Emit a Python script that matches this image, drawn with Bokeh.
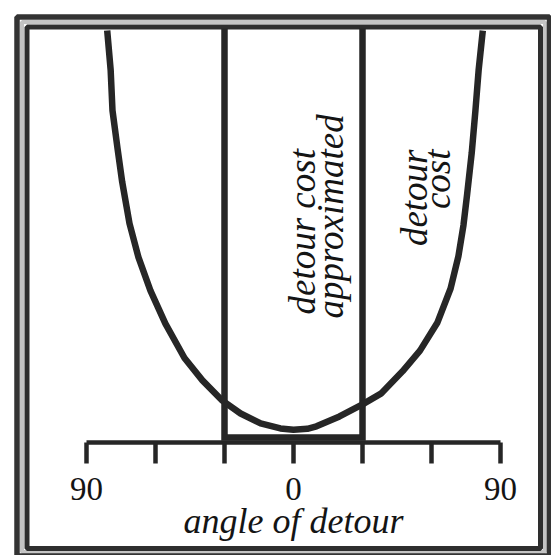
from bokeh.plotting import figure
from bokeh.models import Range1d
from bokeh.embed import file_html
from bokeh.resources import INLINE
from bokeh.core.properties import value
import numpy as np

# ---- data ----
detour_angle = [-81, -79.5, -78.7, -76.5, -74.5, -72.6, -71.3, -67.4, -62.2, -55.7, -47.4,
                -39.6, -30.9, -23, -14.3, -5.7, 0,
                6, 10, 20, 30, 38, 47.4, 55, 62.6, 68.3, 71.7, 73.9, 75.5, 77.5, 79.1, 80.5, 82.3]
detour_cost = [9.95, 9.0, 8.02, 7.1, 6.3, 5.7, 5.29, 4.47, 3.67, 2.87, 2.04,
               1.5, 1.01, 0.7, 0.46, 0.34, 0.31,
               0.33, 0.39, 0.63, 0.92, 1.18, 1.72, 2.22, 2.9, 3.72, 4.5, 5.25, 6.0, 7.0, 8.02, 9.0, 9.95]
approx_angle = [-30, -30, 30, 30]
approx_cost = [10.0, 0.12, 0.12, 10.0]
tick_angles = [-90, -60, -30, 0, 30, 60, 90]
label_angles = [-90, 0, 90]
tick_labels = ["90", "0", "90"]
axis_title = "angle of detour"
label_approx = ["detour cost", "approximated"]
label_cost = ["detour", "cost"]

# ---- layout: canvas pixel -> data mapping ----
PX_PER_DEG = 2.3
X0_PX = 293.0
PX_PER_COST = 41.4
Y0_PX = 442.0
W, H = 551, 555


def ax(px):
    return (px - X0_PX) / PX_PER_DEG


def ay(py):
    return (Y0_PX - py) / PX_PER_COST


p = figure(width=W, height=H, output_backend="svg", toolbar_location=None,
           x_range=Range1d(ax(0), ax(W)), y_range=Range1d(ay(H), ay(0)),
           x_axis_type=None, y_axis_type=None,
           min_border_left=0, min_border_right=0, min_border_top=0, min_border_bottom=0)
p.grid.visible = False
p.outline_line_color = None
p.background_fill_color = "white"
p.border_fill_color = "white"

dark = "#262626"
ink = "#141414"

# frame (double border)
p.quad(left=[ax(21.5)], right=[ax(544.5)], top=[ay(21.5)], bottom=[ay(551.5)],
       fill_color=None, line_color="#c4c4c4", line_width=4)
p.quad(left=[ax(16.5)], right=[ax(549)], top=[ay(16.5)], bottom=[ay(555.5)],
       fill_color=None, line_color="#333333", line_width=5.5)
p.quad(left=[ax(26.5)], right=[ax(540)], top=[ay(26.5)], bottom=[ay(548)],
       fill_color=None, line_color="#2e2e2e", line_width=5)

# axis line and ticks
p.line(x=[tick_angles[0], tick_angles[-1]], y=[0, 0], line_color=dark, line_width=4.5)
p.segment(x0=tick_angles, y0=[0] * len(tick_angles), x1=tick_angles,
          y1=[ay(463)] * len(tick_angles), line_color=dark, line_width=4.5)
p.text(x=label_angles, y=[ay(488)] * 3, text=tick_labels,
       text_font=value("Liberation Serif"), text_font_size="33px",
       text_align="center", text_baseline="alphabetic", text_color=ink)
p.text(x=[0], y=[ay(520)], text=[axis_title],
       text_font=value("Liberation Serif"), text_font_style="italic", text_font_size="36px",
       text_align="center", text_baseline="alphabetic", text_color=ink)

# approximated cost (step) and true detour cost curve
p.line(x=approx_angle, y=approx_cost, line_color=dark, line_width=6.5, line_join="miter")
p.line(x=detour_angle, y=detour_cost, line_color=dark, line_width=6.5, line_join="round")

# rotated labels
p.text(x=[ax(302), ax(330)], y=[ay(314), ay(318)], text=label_approx, angle=np.pi / 2,
       text_font=value("Liberation Serif"), text_font_style="italic", text_font_size="37px",
       text_align="left", text_baseline="alphabetic", text_color=ink)
p.text(x=[ax(414), ax(437)], y=[ay(149), ay(149)], text=label_cost, angle=np.pi / 2,
       text_font=value("Liberation Serif"), text_font_style="italic", text_font_size="37px",
       text_align="right", text_baseline="alphabetic", text_color=ink)

open("out.html", "w").write(file_html(p, INLINE))
